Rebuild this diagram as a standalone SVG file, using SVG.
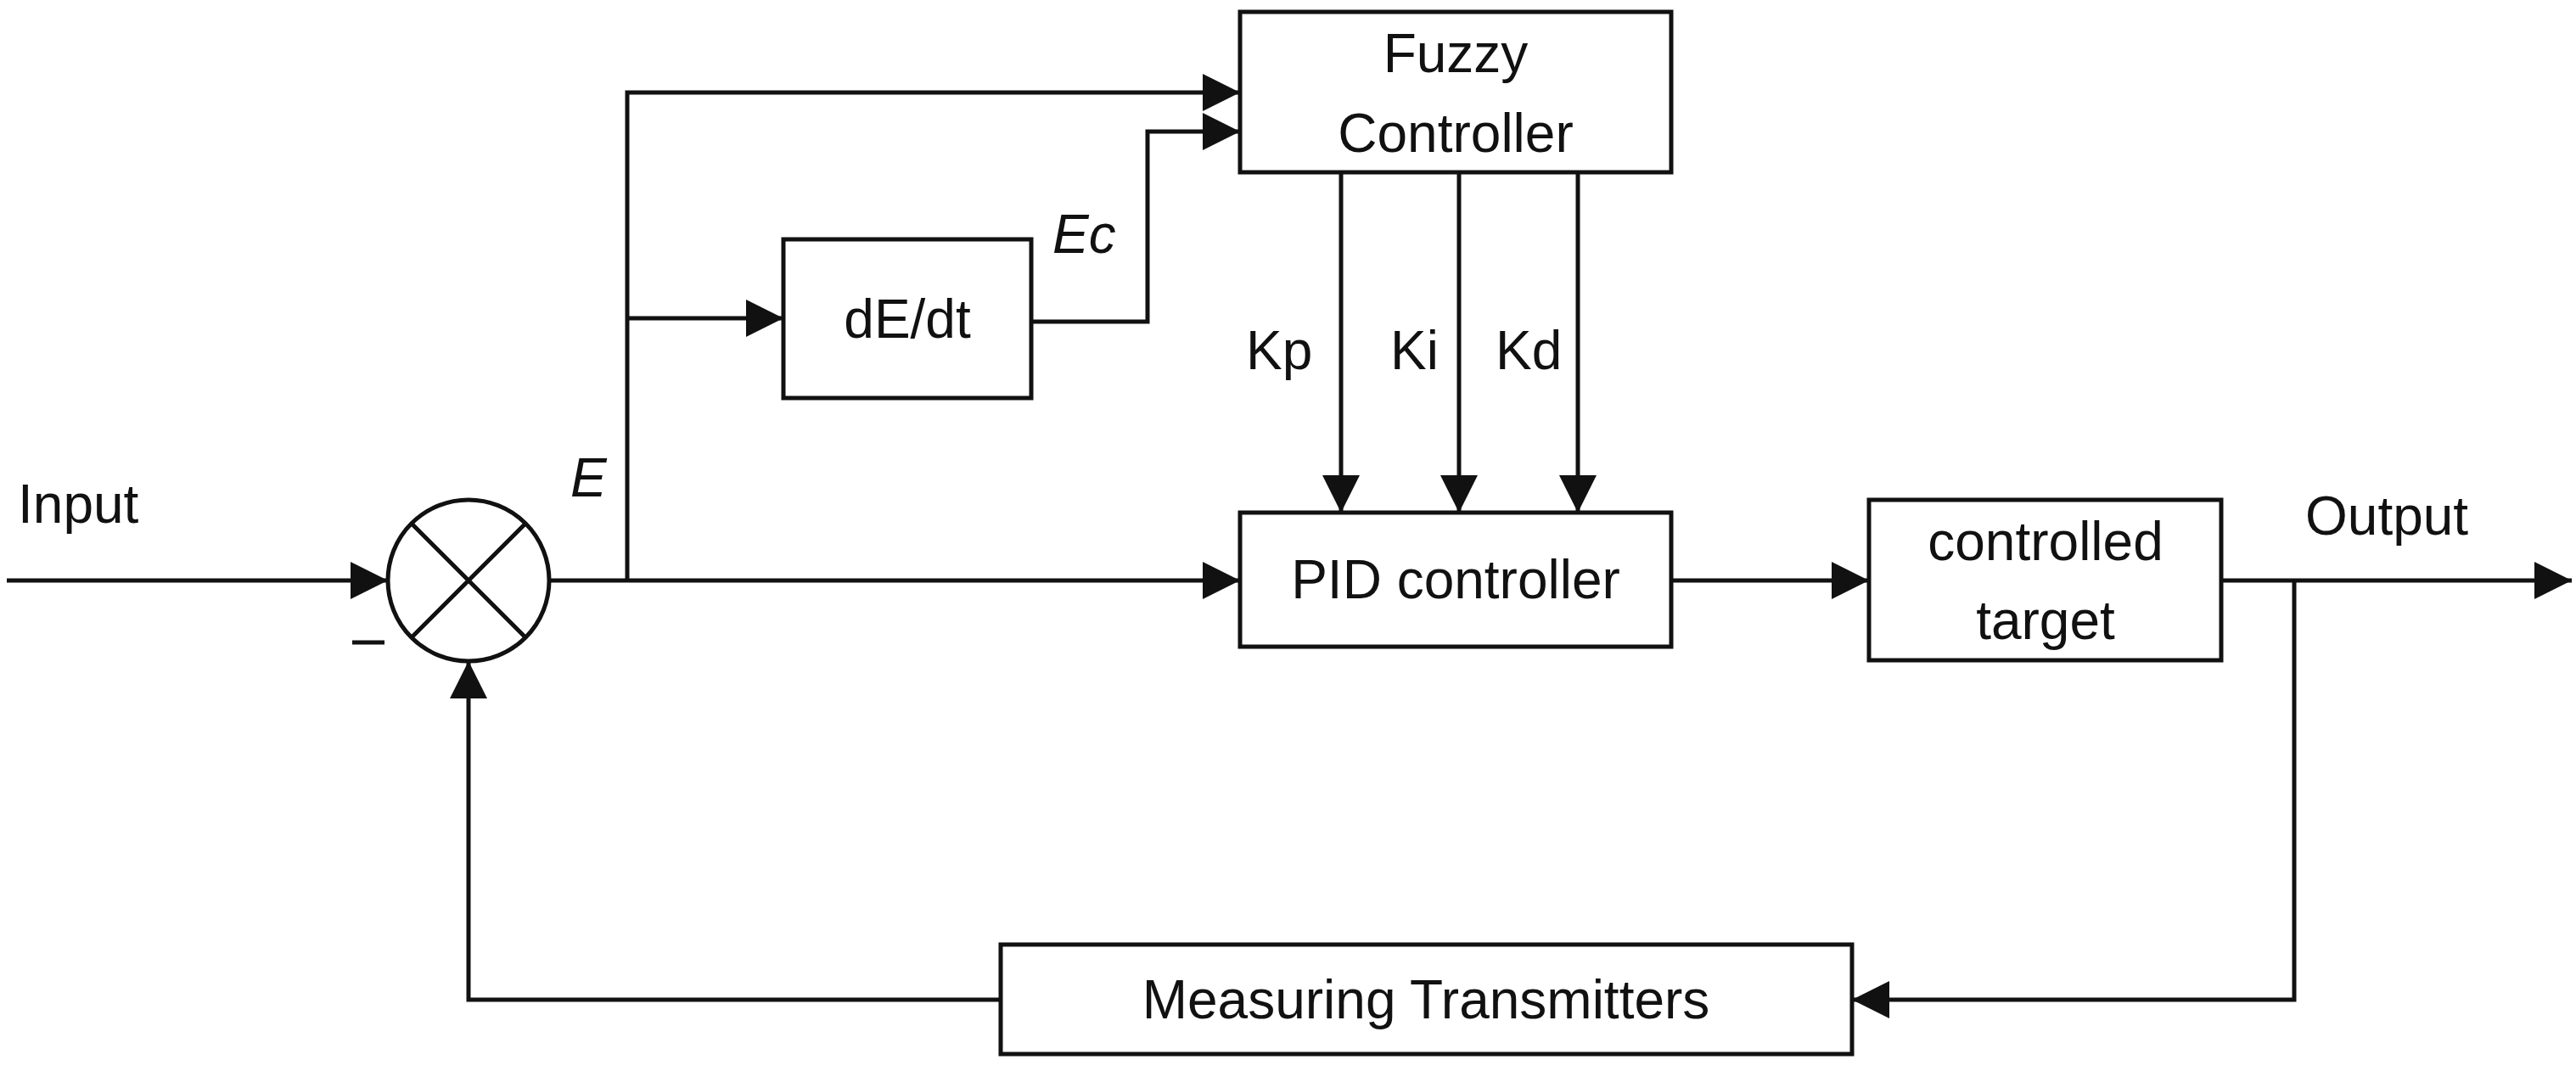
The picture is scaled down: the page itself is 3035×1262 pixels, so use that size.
<svg xmlns="http://www.w3.org/2000/svg" width="3035" height="1262" viewBox="0 0 3035 1262">
<style>
.b{fill:#fff;stroke:#111;stroke-width:5}
.l{fill:none;stroke:#111;stroke-width:5}
.t{font-family:"Liberation Sans",Arial,sans-serif;font-size:64px;fill:#111}
.c{text-anchor:middle}
.i{font-style:italic}
</style>
<defs>
<marker id="a" markerUnits="userSpaceOnUse" markerWidth="44" markerHeight="44" refX="44" refY="22" orient="auto" viewBox="0 0 44 44">
<path d="M0,0 L44,22 L0,44 z" fill="#111"/>
</marker>
</defs>
<rect width="3035" height="1262" fill="#fff"/>
<g id="connectors">
<path class="l" d="M8,684 H457" marker-end="url(#a)"/>
<path class="l" d="M647,684 H1461" marker-end="url(#a)"/>
<path class="l" d="M739,684 V109 H1461" marker-end="url(#a)"/>
<path class="l" d="M739,375 H923" marker-end="url(#a)"/>
<path class="l" d="M1215,379 H1352 V155 H1461" marker-end="url(#a)"/>
<path class="l" d="M1580,203 V604" marker-end="url(#a)"/>
<path class="l" d="M1719,203 V604" marker-end="url(#a)"/>
<path class="l" d="M1859,203 V604" marker-end="url(#a)"/>
<path class="l" d="M1969,684 H2202" marker-end="url(#a)"/>
<path class="l" d="M2617,684 H3030" marker-end="url(#a)"/>
<path class="l" d="M2703,684 V1178 H2182" marker-end="url(#a)"/>
<path class="l" d="M1179,1178 H552 V779" marker-end="url(#a)"/>
</g>
<g id="sum">
<ellipse class="b" cx="552" cy="684" rx="95" ry="95"/>
<path class="l" d="M485,617 L619,751 M619,617 L485,751" stroke-width="3"/>
<path class="l" d="M415,757 H453"/>
</g>
<g id="fuzzy">
<rect class="b" x="1461" y="14" width="508" height="189"/>
<text class="t c" x="1715" y="85">Fuzzy</text>
<text class="t c" x="1715" y="179">Controller</text>
</g>
<g id="dedt">
<rect class="b" x="923" y="282" width="292" height="187"/>
<text class="t c" x="1069" y="398">dE/dt</text>
</g>
<g id="pid">
<rect class="b" x="1461" y="604" width="508" height="158"/>
<text class="t c" x="1715" y="705">PID controller</text>
</g>
<g id="target">
<rect class="b" x="2202" y="589" width="415" height="189"/>
<text class="t c" x="2410" y="660">controlled</text>
<text class="t c" x="2410" y="753">target</text>
</g>
<g id="measuring">
<rect class="b" x="1179" y="1113" width="1003" height="129"/>
<text class="t c" x="1680" y="1200">Measuring Transmitters</text>
</g>
<g id="labels">
<text class="t" x="21" y="616">Input</text>
<text class="t i" x="672" y="585">E</text>
<text class="t i" x="1240" y="298">Ec</text>
<text class="t" x="1468" y="435">Kp</text>
<text class="t" x="1638" y="435">Ki</text>
<text class="t" x="1762" y="435">Kd</text>
<text class="t" x="2716" y="630">Output</text>
</g>
</svg>
